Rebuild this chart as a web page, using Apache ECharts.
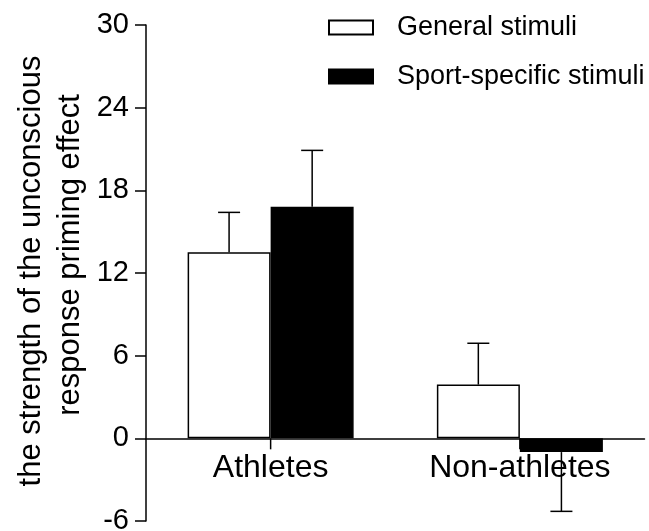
<!DOCTYPE html>
<html>
<head>
<meta charset="utf-8">
<script src="https://cdn.jsdelivr.net/npm/echarts@6/dist/echarts.min.js"></script>
<style>html,body{margin:0;padding:0;background:#fff;}#c{width:649px;height:531px;}</style>
</head>
<body>
<div id="c"></div>
<script>
var categories = ['Athletes', 'Non-athletes'];
var seriesNames = ['General stimuli', 'Sport-specific stimuli'];
var generalValues = [13.5, 3.9];
var generalErrors = [2.9, 3.0];
var sportValues = [16.8, -1.0];
var sportErrors = [4.1, 4.3];
var yTicks = [-6, 0, 6, 12, 18, 24, 30];
var titleLines = ['the strength of the unconscious', 'response priming effect'];

var FONT = 'Liberation Sans, Arial, sans-serif';
var W = 649, H = 531;
var GRID = { left: 146, right: 4.5, top: 25, bottom: 10 };
var yMin = yTicks[0], yMax = yTicks[yTicks.length - 1];
// move the category axis up to the y = 0 line
var gridH = H - GRID.top - GRID.bottom;
var zeroOffset = -(0 - yMin) / (yMax - yMin) * gridH;
var TICK_LEN = 11;

var chart = echarts.init(document.getElementById('c'));

function errData(values, errors) {
  return values.map(function (v, i) { return [i, v, errors[i]]; });
}
function errSeries(name, values, errors, side, withCategoryTick) {
  return {
    type: 'custom',
    name: name + ' error',
    z: 5,
    silent: true,
    data: errData(values, errors),
    renderItem: function (params, api) {
      var i = api.value(0), v = api.value(1), e = api.value(2);
      var end = v >= 0 ? v + e : v - e;
      var band = api.size([1, 0])[0];
      var off = side * band / 6;
      var p0 = api.coord([i, v]);
      var p1 = api.coord([i, end]);
      var pz = api.coord([i, 0]);
      var x = p0[0] + off;
      var cap = 11;
      var children = [
        { type: 'line', shape: { x1: x, y1: p0[1], x2: x, y2: p1[1] }, style: { stroke: '#000', lineWidth: 1.5 } },
        { type: 'line', shape: { x1: x - cap, y1: p1[1], x2: x + cap, y2: p1[1] }, style: { stroke: '#000', lineWidth: 1.5 } }
      ];
      if (withCategoryTick) {
        children.push({ type: 'line', shape: { x1: pz[0], y1: pz[1], x2: pz[0], y2: pz[1] + TICK_LEN }, style: { stroke: '#000', lineWidth: 1.5 } });
      }
      return { type: 'group', children: children };
    }
  };
}

chart.setOption({
  animation: false,
  backgroundColor: '#fff',
  textStyle: { fontFamily: FONT, color: '#000' },
  grid: { left: GRID.left, right: GRID.right, top: GRID.top, bottom: GRID.bottom, containLabel: false, outerBoundsMode: 'none' },
  legend: {
    data: seriesNames,
    orient: 'vertical',
    left: 323,
    top: 9,
    itemWidth: 44,
    itemHeight: 14,
    itemGap: 22,
    icon: 'rect',
    textStyle: { fontFamily: FONT, fontSize: 27, color: '#000', padding: [0, 0, 0, 19] }
  },
  xAxis: {
    type: 'category',
    data: categories,
    position: 'bottom',
    offset: zeroOffset,
    z: 1,
    axisLine: { onZero: false, lineStyle: { color: '#000', width: 1.5 } },
    axisTick: { show: false },
    axisLabel: { fontFamily: FONT, fontSize: 32, color: '#000', margin: 14 }
  },
  yAxis: {
    type: 'value',
    min: yMin,
    max: yMax,
    interval: yTicks[1] - yTicks[0],
    axisLine: { show: true, onZero: false, lineStyle: { color: '#000', width: 1.5 } },
    axisTick: { show: true, length: TICK_LEN, lineStyle: { color: '#000', width: 1.5 } },
    axisLabel: { fontFamily: FONT, fontSize: 29, color: '#000', margin: 17 },
    splitLine: { show: false }
  },
  graphic: [
    { type: 'text', x: 31, y: 271, rotation: Math.PI / 2,
      style: { text: titleLines[0], font: '31px ' + FONT, fill: '#000', align: 'center', verticalAlign: 'middle' } },
    { type: 'text', x: 70, y: 255, rotation: Math.PI / 2,
      style: { text: titleLines[1], font: '31px ' + FONT, fill: '#000', align: 'center', verticalAlign: 'middle' } }
  ],
  series: [
    {
      type: 'bar', name: seriesNames[0], data: generalValues, z: 2,
      barWidth: '33.3%', barGap: '0%',
      itemStyle: { color: '#fff', borderColor: '#000', borderWidth: 1.5 }
    },
    {
      type: 'bar', name: seriesNames[1], data: sportValues, z: 2,
      barWidth: '33.3%', barGap: '0%',
      itemStyle: { color: '#000', borderColor: '#000', borderWidth: 1.5 }
    },
    errSeries(seriesNames[0], generalValues, generalErrors, -1, true),
    errSeries(seriesNames[1], sportValues, sportErrors, 1, false)
  ]
});
</script>
</body>
</html>
